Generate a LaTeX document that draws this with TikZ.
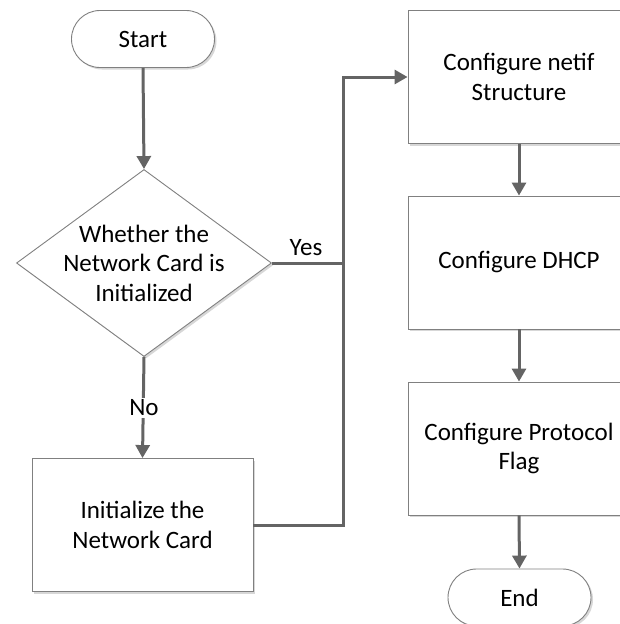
\documentclass[tikz,border=0pt]{standalone}
\usepackage{fontspec}
\setmainfont{Carlito}
\usetikzlibrary{arrows.meta,shapes.geometric,shapes.misc,shadows}

\definecolor{edgegray}{RGB}{128,128,128}
\definecolor{linkgray}{RGB}{100,100,100}
\definecolor{shadowgray}{RGB}{215,215,215}

\tikzset{
  every node/.style={font=\fontsize{25}{29.5}\selectfont, align=center},
  boxshadow/.style={drop shadow={shadow xshift=2pt, shadow yshift=-2pt, fill=shadowgray, opacity=1}},
  procbox/.style={rectangle, draw=edgegray, line width=0.9pt, fill=white, boxshadow,
                  minimum width=222pt, minimum height=133pt, inner sep=0pt},
  terminal/.style={rounded rectangle, draw=edgegray, line width=0.9pt, fill=white, boxshadow,
                   minimum width=143pt, minimum height=57pt, inner sep=0pt},
  decision/.style={diamond, draw=edgegray, line width=0.9pt, fill=white, boxshadow,
                   minimum width=255pt, minimum height=187pt, inner sep=0pt},
  link/.style={draw=linkgray, line width=3pt},
  flow/.style={link, -{Triangle[length=13pt, width=14pt]}},
  edgelabel/.style={fill=white, inner sep=2pt}
}

\begin{document}
\begin{tikzpicture}[x=1pt, y=-1pt]
  \useasboundingbox (0,0) rectangle (619,624);

  % left column
  \node[terminal] (start) at (143,39) {Start};
  \node[decision] (dec) at (144,263) {};
  \node (dectext) at (144,263) {Whether the\\Network Card is\\Initialized};
  \node[procbox, minimum width=221pt] (init) at (142.5,525) {Initialize the\\Network Card};

  % right column
  \node[procbox] (netif) at (519,77) {Configure netif\\Structure};
  \node[procbox] (dhcp) at (519,262.5) {Configure DHCP};
  \node[procbox] (proto) at (519,448.5) {Configure Protocol\\Flag};
  \node[terminal] (end) at (519.5,597.5) {End};

  % junction where both branches meet
  \coordinate (jn) at (343,263);

  % connectors
  \draw[flow] (start.south) -- (dec.north);
  \draw[flow] (dec.south) -- (init.north);
  \node[edgelabel] (nolabel) at (144,408) {No};
  \draw[link] (init.east) -| (jn);
  \draw[flow] (dec.east) -- (jn) |- (netif.west);
  \node (yeslabel) at (306,248) {Yes};
  \draw[flow] (netif.south) -- (dhcp.north);
  \draw[flow] (dhcp.south) -- (proto.north);
  \draw[flow] (proto.south) -- (end.north);
\end{tikzpicture}
\end{document}
